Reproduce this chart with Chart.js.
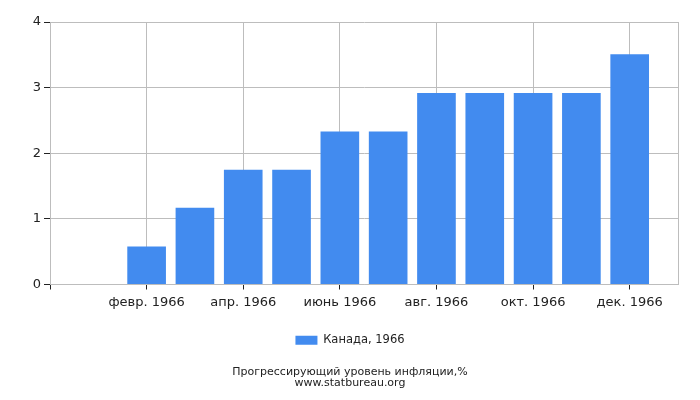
<!DOCTYPE html>
<html>
<head>
<meta charset="utf-8">
<script src="https://cdn.jsdelivr.net/npm/chart.js@4"></script>
<style>
    body { margin: 0; background: #fff; }
    #wrap { width: 700px; height: 400px; position: relative; }
</style>
</head>
<body>
<div id="wrap"><canvas id="myChart"></canvas></div>
<script>
// данные графика
var months = ['янв. 1966', 'февр. 1966', 'март 1966', 'апр. 1966', 'май 1966', 'июнь 1966',
    'июль 1966', 'авг. 1966', 'сент. 1966', 'окт. 1966', 'нояб. 1966', 'дек. 1966'];
var values = [0, 0.58, 1.17, 1.75, 1.75, 2.33, 2.33, 2.92, 2.92, 2.92, 2.92, 3.51];
var yTicks = [0, 1, 2, 3, 4];
var seriesName = 'Канада, 1966';
var titleLines = ['Прогрессирующий уровень инфляции,%', 'www.statbureau.org'];

// пустые места по краям оси, как на оригинале
var labels = [''].concat(months, ['']);
var data = [null].concat(values, [null]);

function shown(i) {
    return i > 1 && i < labels.length - 1 && i % 2 === 0;
}

var ctx = document.getElementById('myChart').getContext('2d');
var myChart = new Chart(ctx, {
    type: 'bar',
    data: {
        labels: labels,
        datasets: [{
            label: seriesName,
            data: data,
            backgroundColor: '#428bef',
            borderWidth: 0,
            categoryPercentage: 1,
            barPercentage: 0.8
        }]
    },
    options: {
        responsive: true,
        maintainAspectRatio: false,
        animation: false,
        layout: { padding: { left: 0, right: 0, top: 22, bottom: 11 } },
        scales: {
            x: {
                offset: false,
                grid: {
                    offset: false,
                    color: function (c) {
                        var i = c.index;
                        return (i === 0 || i === labels.length - 1 || shown(i)) ? '#bdbdbd' : 'rgba(0,0,0,0)';
                    },
                    tickColor: function (c) {
                        var i = c.index;
                        return (i === 0 || shown(i)) ? '#222' : 'rgba(0,0,0,0)';
                    },
                    tickLength: 5
                },
                border: { color: '#bdbdbd' },
                ticks: {
                    autoSkip: false,
                    maxRotation: 0,
                    padding: 5,
                    color: '#222',
                    font: { family: 'DejaVu Sans', size: 13 },
                    callback: function (v, i) { return shown(i) ? labels[i] : ''; }
                },
                afterFit: function (s) { s.height = 40; }
            },
            y: {
                min: 0,
                max: 4,
                afterBuildTicks: function (s) { s.ticks = yTicks.map(function (v) { return { value: v }; }); },
                grid: { color: '#bdbdbd', tickColor: '#222', tickLength: 6 },
                border: { color: '#bdbdbd' },
                ticks: {
                    padding: 3,
                    color: '#222',
                    font: { family: 'DejaVu Sans', size: 13 }
                },
                afterFit: function (s) { s.width = 50; }
            },
            // пустая ось справа, только для отступа
            y2: {
                position: 'right',
                grid: { display: false },
                border: { display: false },
                ticks: { display: false },
                afterFit: function (s) { s.width = 22; }
            }
        },
        plugins: {
            legend: {
                position: 'bottom',
                labels: {
                    boxWidth: 22,
                    boxHeight: 9,
                    padding: 10,
                    color: '#222',
                    font: { family: 'DejaVu Sans', size: 11.5 }
                }
            },
            title: {
                display: true,
                position: 'bottom',
                text: titleLines,
                color: '#222',
                padding: { top: 11, bottom: 0 },
                font: { family: 'DejaVu Sans', size: 11, weight: 'normal', lineHeight: 1.0 }
            },
            tooltip: { enabled: false }
        }
    }
});
</script>
</body>
</html>
